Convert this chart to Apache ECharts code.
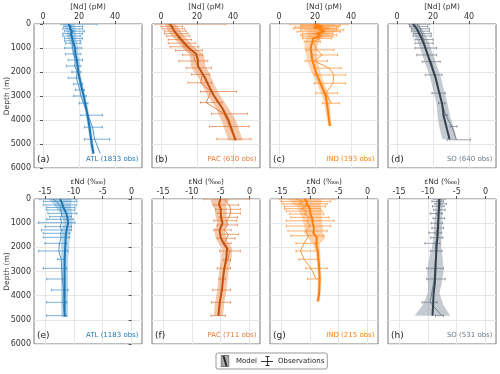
<!DOCTYPE html>
<html>
<head>
<meta charset="utf-8">
<script src="https://cdn.jsdelivr.net/npm/echarts@6/dist/echarts.min.js"></script>
<style>
html, body { margin: 0; padding: 0; background: #fff; }
#chart { width: 500px; height: 374px; }
</style>
</head>
<body>
<div id="chart"></div>
<script>
// ---- [Nd] profiles (pM) ----
const aModelDepth = [0, 100, 200, 300, 400, 500, 700, 1000, 1250, 1500, 2000, 2500, 3000, 3500, 4000, 4500, 5000, 5400];
const aModelVal = [14, 15, 15, 16, 15.5, 16, 16.5, 17.8, 18, 18.8, 19.6, 21, 22.6, 24, 25.2, 26.2, 27.1, 28];
const aModelSpread = [3, 3, 3, 2.5, 2.5, 2.5, 2, 2, 1.5, 1.5, 1, 1, 1, 1, 1, 1, 1, 1];
const aObsDepth = [0, 100, 200, 300, 400, 500, 600, 700, 800, 1000, 1250, 1500, 1750, 2000, 2250, 2500, 2750, 3000, 3300, 3800, 4300, 4800, 5400];
const aObsVal = [14, 16, 15, 17, 16, 15, 17, 16, 16.5, 16.5, 17, 18, 17.5, 19, 18.5, 19.5, 20.5, 21, 22.5, 25, 27.5, 28.7, 31.8];
const aObsLo = [10, 11.5, 11, 12, 11, 11, 12, 12, 12.5, 12, 12.5, 14, 13, 16, 14, 17, 18, 17, 20, 21, 23, 23, 31.8];
const aObsHi = [30, 22, 22, 23, 22, 21, 22, 21, 21, 21.5, 21, 22, 21, 21, 20, 22, 23, 24, 25, 33, 33, 37, 31.8];

const bModelDepth = [0, 100, 250, 500, 750, 1000, 1250, 1500, 1750, 2000, 2250, 2500, 3000, 3500, 4000, 4500, 4850];
const bModelVal = [5, 6, 7, 9.5, 12.5, 15.5, 19.5, 20.5, 20.5, 22.5, 24.5, 26, 29.5, 34, 37.5, 39.8, 41.5];
const bModelSpread = [3, 3, 3.5, 3.5, 3.5, 3.5, 4, 4, 4, 4, 3.5, 3.5, 3.5, 3.5, 4, 4, 4];
const bObsDepth = [0, 100, 200, 300, 400, 500, 650, 800, 950, 1100, 1290, 1540, 1830, 2100, 2450, 2814, 3270, 3742, 4270, 4795];
const bObsVal = [4, 5, 6.5, 7, 8, 9, 10, 12, 13, 15, 18, 19, 21, 23, 22, 28, 25, 35, 38, 41];
const bObsLo = [-3, 0, 1, 2, 2, 3, 4, 4, 5, 8, 12, 10, 14, 17, 15, 22, 22, 28, 27, 31];
const bObsHi = [36, 12, 13, 14, 15, 16, 17, 19, 21, 23, 23, 26, 28, 27, 28, 42, 34, 48, 49, 50];

const cModelDepth = [0, 50, 100, 150, 200, 300, 400, 500, 600, 750, 1000, 1250, 1500, 2000, 2500, 3000, 3500, 4000, 4250];
const cModelVal = [22, 20, 24, 19, 23, 25, 21, 23, 19, 18.5, 17.6, 18, 18.5, 20.4, 23.2, 26, 27, 27.8, 28.3];
const cModelSpread = [10, 8, 12, 8, 10, 8, 6, 6, 4, 4, 3.5, 3, 3, 2.5, 2, 2, 1.5, 1, 1];
const cObsDepth = [0, 60, 120, 180, 250, 320, 400, 460, 530, 600, 735, 1080, 1290, 1540, 1840, 2120, 2470, 2880, 3300];
const cObsVal = [18, 25, 20, 28, 22, 26, 19, 24, 21, 23, 19, 21, 24, 19.5, 28, 30.5, 30, 26, 29];
const cObsLo = [6, 12, 9, 8, 12, 10, 13, 12, 13, 13, 14, 15, 18.5, 14.5, 20.5, 19.5, 19.5, 20.5, 24];
const cObsHi = [38, 34, 33, 32, 36, 34, 30, 32, 30, 29, 23, 30.5, 32.5, 27, 34.5, 37, 37, 32.5, 33.5];

const dModelDepth = [0, 200, 500, 800, 1200, 1600, 2200, 2750, 3300, 3850, 4400, 4800];
const dModelVal = [9, 11, 13, 14.8, 16.7, 18.5, 21.3, 23.1, 25, 26, 27.8, 29.2];
const dModelSpread = [3, 3, 3, 3, 3, 3, 3, 3, 3, 3.5, 4, 4];
const dObsDepth = [0, 100, 200, 300, 400, 500, 650, 800, 1000, 1290, 1570, 2120, 2880, 3300, 3800, 4270, 4823];
const dObsVal = [11, 12, 13, 13, 14, 14, 15, 15, 16, 17, 19, 21, 23.5, 25, 27, 30.5, 33];
const dObsLo = [7, 7, 8, 8, 9, 9, 10, 10, 10, 11, 14, 15.7, 19.4, 23.1, 25.5, 29.6, 27.8];
const dObsHi = [18, 17, 18, 18, 19, 19, 20, 20, 22, 22, 24, 25, 26.8, 26.8, 28, 33.3, 40.7];

// ---- εNd profiles ----
const eModelDepth = [0, 100, 200, 300, 450, 600, 800, 1000, 1200, 1500, 2000, 2500, 3000, 3500, 4000, 4500, 4870];
const eModelVal = [-12.4, -12.2, -12.0, -11.9, -11.6, -11.3, -11.1, -11.0, -11.2, -11.4, -11.5, -11.6, -11.6, -11.6, -11.6, -11.6, -11.6];
const eModelSpread = [2, 1.8, 1.6, 1.4, 1.2, 1, 0.8, 0.8, 0.8, 0.7, 0.7, 0.6, 0.6, 0.6, 0.6, 0.6, 0.6];
const eObsDepth = [0, 100, 248, 350, 455, 593, 731, 841, 979, 1145, 1282, 1420, 1586, 1834, 2151, 2496, 2869, 3310, 3765, 4275, 4827];
const eObsVal = [-13.6, -13, -12.5, -12.2, -12.3, -12.1, -12.2, -12.3, -12.1, -12.4, -12.1, -12.3, -12.2, -12.5, -12.6, -12.2, -12.1, -12.0, -11.8, -11.9, -11.6];
const eObsLo = [-15.9, -15.3, -15.3, -14.7, -14.7, -14.5, -14.2, -14.7, -16.1, -15.0, -15.6, -15.3, -15.3, -15.0, -16.1, -12.8, -15.3, -14.7, -13.9, -14.7, -14.7];
const eObsHi = [-9.5, -9.5, -9.5, -9.8, -9.8, -9.5, -10.4, -10.1, -9.8, -10.4, -10.4, -10.7, -10.7, -11.25, -11.0, -11.5, -11.25, -11.5, -11.0, -11.25, -11.25];

const fModelDepth = [0, 100, 250, 400, 600, 800, 1000, 1300, 1600, 1834, 2041, 2386, 3076, 3765, 4317, 4841];
const fModelVal = [-5.0, -5.2, -5.3, -5.0, -5.0, -4.9, -4.7, -5.2, -5.0, -4.5, -3.9, -4.0, -4.5, -4.8, -5.2, -5.4];
const fModelSpread = [1.6, 1.5, 1.2, 1.0, 1.0, 0.9, 0.9, 0.9, 0.9, 0.9, 0.9, 0.9, 0.8, 0.8, 0.8, 0.8];
const fObsDepth = [0, 248, 427, 593, 758, 896, 1075, 1282, 1462, 1627, 1834, 2151, 2524, 2869, 3310, 3765, 4275, 4827];
const fObsVal = [-4.5, -3.5, -3.3, -3.3, -3.6, -4.0, -3.8, -4.4, -3.7, -4.0, -4.4, -3.4, -3.8, -4.5, -4.6, -4.8, -5.1, -5.4];
const fObsLo = [-7.9, -6.2, -5.9, -5.6, -5.3, -6.2, -5.6, -6.2, -5.0, -5.6, -4.6, -5.2, -4.5, -5.6, -5.3, -6.4, -6.6, -6.7];
const fObsHi = [0, -1.9, -1.6, -1.6, -2.1, -2.2, -2.1, -3.2, -1.9, -2.5, -3.2, -1.6, -3.3, -3.3, -4.2, -3.3, -3.3, -4.2];

const gModelDepth = [0, 100, 200, 300, 450, 600, 800, 1000, 1200, 1400, 1600, 1850, 2200, 2800, 3300, 3900, 4240];
const gModelVal = [-11.0, -10.5, -10.6, -10.2, -10.0, -9.9, -9.6, -9.5, -9.3, -9.4, -8.8, -8.9, -8.6, -8.4, -8.3, -8.4, -8.6];
const gModelSpread = [3, 2.5, 2.5, 2, 2, 1.8, 1.7, 1.6, 1.6, 1.6, 1.5, 0.6, 0.4, 0.3, 0.3, 0.3, 0.3];
const gObsDepth = [0, 100, 200, 300, 400, 500, 620, 760, 900, 1117, 1324, 1520, 1834, 2151, 2496, 2869, 3310];
const gObsVal = [-12.5, -11, -12, -10.5, -11.5, -10.5, -11, -10, -10.5, -10, -10.7, -10.2, -11.0, -11.6, -11.0, -9.8, -8.9];
const gObsLo = [-15.3, -15.0, -14.7, -14.4, -14.4, -14.1, -13.5, -13.3, -14.1, -14.1, -13.8, -13.3, -12.4, -12.4, -11.9, -10.7, -10.4];
const gObsHi = [-5.8, -6.4, -7.0, -7.3, -8.2, -7.9, -7.6, -6.7, -5.8, -6.4, -7.0, -7.6, -8.6, -8.6, -8.6, -7.0, -8.6];

const hModelDepth = [0, 500, 1000, 1500, 2000, 2500, 3000, 3500, 3900, 4400, 4826];
const hModelVal = [-8.0, -8.1, -8.2, -8.3, -8.5, -8.6, -8.7, -8.8, -9.0, -9.1, -9.2];
const hModelSpread = [0.6, 0.6, 0.7, 0.7, 0.8, 1.2, 1.4, 1.2, 1.0, 1.8, 3.1];
const hObsDepth = [0, 100, 200, 300, 450, 600, 800, 1000, 1200, 1400, 1600, 1834, 2151, 2869, 3310, 4275, 4827];
const hObsVal = [-8.0, -8.3, -7.8, -8.2, -8.0, -8.5, -8.1, -8.4, -8.3, -8.6, -8.4, -8.7, -8.6, -8.8, -8.9, -9.6, -7.6];
const hObsLo = [-9.0, -9.3, -8.8, -9.2, -9.0, -9.6, -9.1, -9.4, -9.3, -9.8, -9.5, -10.5, -9.6, -10.2, -10.2, -11.0, -8.7];
const hObsHi = [-7.0, -7.3, -6.8, -7.2, -7.0, -7.5, -7.1, -7.4, -7.3, -7.6, -7.4, -7.9, -7.55, -7.3, -7.0, -8.4, -7.3];

// ---- labels / ticks ----
const panelTags = ["(a)", "(b)", "(c)", "(d)", "(e)", "(f)", "(g)", "(h)"];
const basinNames = ["ATL", "PAC", "IND", "SO"];
const obsCounts = [1833, 630, 193, 640, 1183, 711, 215, 531];
const ndTicks = [0, 20, 40];
const epsTicks = [-15, -10, -5, 0];
const depthTicks = [0, 1000, 2000, 3000, 4000, 5000, 6000];

const FONT = "DejaVu Sans";
const basinStyle = [
    { line: "#1f77b4", obs: "#3a8bc6", band: "rgba(31,119,180,0.30)", text: "#1f77b4" },
    { line: "#c4530d", obs: "#e07a3c", band: "rgba(232,125,55,0.42)", text: "#e07a3c" },
    { line: "#ff7f0e", obs: "#ff8c28", band: "rgba(255,150,60,0.40)", text: "#ff7f0e" },
    { line: "#36414f", obs: "#6b7684", band: "rgba(120,130,145,0.42)", text: "#6e7886" }
];
const colLeft = [34, 152, 270, 388];
const panelWidth = 108;
const rowTop = [24, 199];
const rowHeight = [144, 145];

const panels = [
    [aModelDepth, aModelVal, aModelSpread, aObsDepth, aObsVal, aObsLo, aObsHi],
    [bModelDepth, bModelVal, bModelSpread, bObsDepth, bObsVal, bObsLo, bObsHi],
    [cModelDepth, cModelVal, cModelSpread, cObsDepth, cObsVal, cObsLo, cObsHi],
    [dModelDepth, dModelVal, dModelSpread, dObsDepth, dObsVal, dObsLo, dObsHi],
    [eModelDepth, eModelVal, eModelSpread, eObsDepth, eObsVal, eObsLo, eObsHi],
    [fModelDepth, fModelVal, fModelSpread, fObsDepth, fObsVal, fObsLo, fObsHi],
    [gModelDepth, gModelVal, gModelSpread, gObsDepth, gObsVal, gObsLo, gObsHi],
    [hModelDepth, hModelVal, hModelSpread, hObsDepth, hObsVal, hObsLo, hObsHi]
];

const grids = [], xAxes = [], yAxes = [], series = [], texts = [];

panels.forEach((p, i) => {
    const [mDepth, mVal, mSpread, oDepth, oVal, oLo, oHi] = p;
    const row = i < 4 ? 0 : 1;
    const col = i % 4;
    const st = basinStyle[col];
    grids.push({
        left: colLeft[col], top: rowTop[row], width: panelWidth, height: rowHeight[row],
        show: true, borderColor: "#7a7a7a", borderWidth: 1, backgroundColor: "transparent",
        containLabel: false, outerBoundsMode: "none"
    });
    const ticks = row === 0 ? ndTicks : epsTicks;
    xAxes.push({
        gridIndex: i, type: "value", position: "top",
        min: row === 0 ? -5 : -16.9, max: row === 0 ? 55 : 1.8,
        name: row === 0 ? "[Nd] (pM)" : "εNd (‱)",
        nameLocation: "middle", nameGap: 13, nameMoveOverlap: false,
        nameTextStyle: { fontSize: 7.5, color: "#333", fontFamily: FONT },
        axisLine: { show: false },
        axisTick: { show: true, length: 3, customValues: ticks, lineStyle: { color: "#555" } },
        axisLabel: { customValues: ticks, fontSize: 8, color: "#333", margin: 3, fontFamily: FONT },
        splitLine: { show: true, lineStyle: { color: "#e6e6e6", width: 1 } }
    });
    yAxes.push({
        gridIndex: i, type: "value", inverse: true, min: 0, max: 6000, interval: 1000,
        name: col === 0 ? "Depth (m)" : "", nameLocation: "middle", nameGap: 23, nameRotate: 90,
        nameMoveOverlap: false,
        nameTextStyle: { fontSize: 7.5, color: "#333", fontFamily: FONT },
        axisLine: { show: false },
        axisTick: { show: col === 0, length: 3, customValues: depthTicks, lineStyle: { color: "#555" } },
        axisLabel: {
            show: col === 0, customValues: depthTicks, fontSize: 8, color: "#333", margin: 3, fontFamily: FONT,
            formatter: v => String(v)
        },
        splitLine: { show: true, lineStyle: { color: "#e6e6e6", width: 1 } }
    });

    // model spread band
    series.push({
        type: "custom", xAxisIndex: i, yAxisIndex: i, silent: true, z: 1, clip: true,
        data: [[mVal[0], mDepth[0]]],
        renderItem: (params, api) => {
            const left = mDepth.map((d, k) => api.coord([mVal[k] - mSpread[k], d]));
            const right = mDepth.map((d, k) => api.coord([mVal[k] + mSpread[k], d])).reverse();
            return { type: "polygon", shape: { points: left.concat(right) }, style: { fill: st.band } };
        }
    });
    // observation error bars
    series.push({
        type: "custom", xAxisIndex: i, yAxisIndex: i, silent: true, z: 2, clip: true,
        data: oDepth.map((d, k) => [oLo[k], oHi[k], d]),
        encode: { x: [0, 1], y: 2 },
        renderItem: (params, api) => {
            const lo = api.coord([api.value(0), api.value(2)]);
            const hi = api.coord([api.value(1), api.value(2)]);
            if (hi[0] - lo[0] < 0.5) return;
            const ls = { stroke: st.obs, lineWidth: 0.8, opacity: 0.85 };
            return {
                type: "group",
                children: [
                    { type: "line", shape: { x1: lo[0], y1: lo[1], x2: hi[0], y2: hi[1] }, style: ls },
                    { type: "line", shape: { x1: lo[0], y1: lo[1] - 1.3, x2: lo[0], y2: lo[1] + 1.3 }, style: ls },
                    { type: "line", shape: { x1: hi[0], y1: hi[1] - 1.3, x2: hi[0], y2: hi[1] + 1.3 }, style: ls }
                ]
            };
        }
    });
    // observation mean profile
    series.push({
        name: "Observations", type: "line", xAxisIndex: i, yAxisIndex: i, z: 3,
        data: oDepth.map((d, k) => [oVal[k], d]),
        showSymbol: false, silent: true, animation: false,
        lineStyle: { color: st.obs, width: 0.9 }, itemStyle: { color: st.obs }
    });
    // model profile
    series.push({
        name: "Model", type: "line", xAxisIndex: i, yAxisIndex: i, z: 4,
        data: mDepth.map((d, k) => [mVal[k], d]),
        showSymbol: false, silent: true, animation: false,
        lineStyle: { color: st.line, width: 2 }, itemStyle: { color: st.line }
    });

    const bottom = rowTop[row] + rowHeight[row];
    texts.push({
        type: "text", left: colLeft[col] + 3, top: bottom - 13, z: 100,
        style: { text: panelTags[i], fontSize: 9, fill: "#222", fontFamily: FONT }
    });
    texts.push({
        type: "text", right: 500 - colLeft[col] - panelWidth + 3.5, top: bottom - 12, z: 100,
        style: { text: `${basinNames[col]} (${obsCounts[i]} obs)`, fontSize: 7, fill: st.text, fontFamily: FONT }
    });
});

const modelIcon = "image://data:image/svg+xml;utf8," + encodeURIComponent(
    '<svg xmlns="http://www.w3.org/2000/svg" width="9" height="12"><rect x="0.5" y="0.5" width="8" height="11" fill="#a9a9a9" stroke="#777"/><line x1="3" y1="1" x2="6" y2="11" stroke="#222" stroke-width="1.8"/></svg>');
const obsIcon = "image://data:image/svg+xml;utf8," + encodeURIComponent(
    '<svg xmlns="http://www.w3.org/2000/svg" width="12" height="12"><line x1="0" y1="6.5" x2="12" y2="6.5" stroke="#333" stroke-width="1"/><line x1="6.5" y1="1" x2="6.5" y2="11" stroke="#333" stroke-width="1"/><line x1="4.5" y1="1.5" x2="8.5" y2="1.5" stroke="#333"/><line x1="4.5" y1="10.5" x2="8.5" y2="10.5" stroke="#333"/></svg>');

const chart = echarts.init(document.getElementById("chart"), null, { renderer: "canvas" });
chart.setOption({
    backgroundColor: "#fff",
    animation: false,
    textStyle: { fontFamily: FONT },
    grid: grids,
    xAxis: xAxes,
    yAxis: yAxes,
    series: series,
    graphic: texts,
    legend: {
        bottom: 5, left: 216, selectedMode: false,
        data: [
            { name: "Model", icon: modelIcon, itemWidth: 9 },
            { name: "Observations", icon: obsIcon }
        ],
        itemWidth: 12, itemHeight: 12, itemGap: 4,
        padding: [2, 3], borderColor: "#999", borderWidth: 1, borderRadius: 2,
        textStyle: { fontSize: 7, color: "#222", fontFamily: FONT }
    }
});
</script>
</body>
</html>
